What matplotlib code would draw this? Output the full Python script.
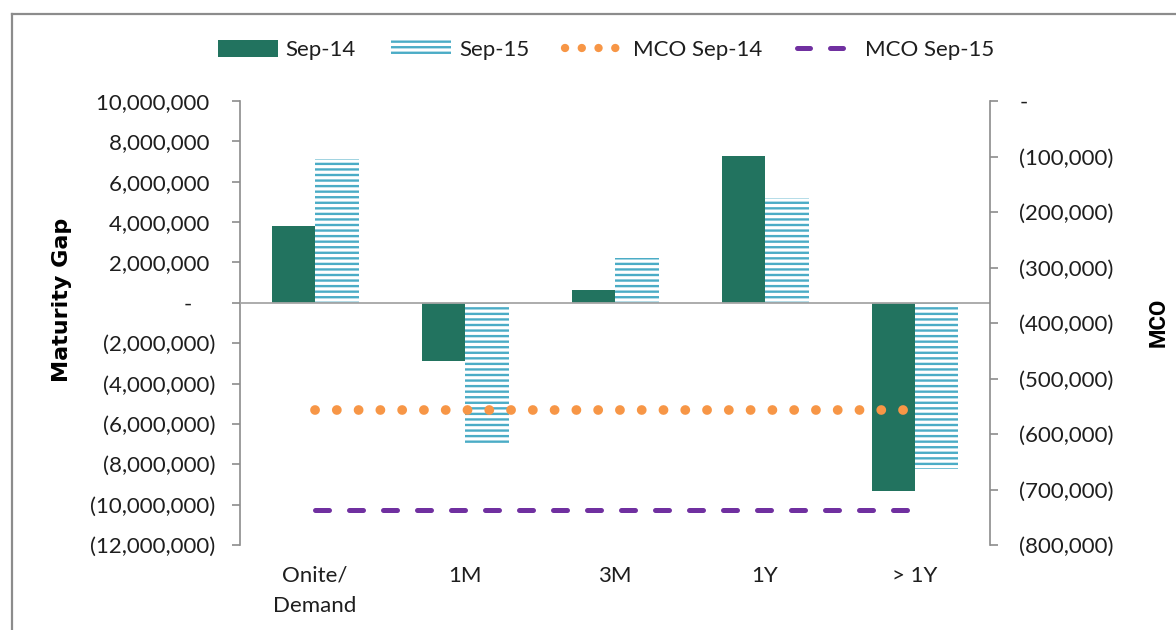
import matplotlib.pyplot as plt
from matplotlib.patches import Patch
from matplotlib.lines import Line2D
from matplotlib.ticker import FuncFormatter, MultipleLocator
import numpy as np

# Data
categories = ['Onite/\nDemand', '1M', '3M', '1Y', '> 1Y']
gap_sep14 = [3800000, -2880000, 650000, 7250000, -9330000]
gap_sep15 = [7150000, -6950000, 2230000, 5200000, -8240000]
mco_sep14 = [-557000, -557000, -557000, -557000, -557000]
mco_sep15 = [-737000, -737000, -737000, -737000, -737000]

green = '#22735F'
blue = '#4BACC6'
orange = '#F79646'
purple = '#7030A0'
grey = '#8C8C8C'
txt = '#1E1E1E'

plt.rcParams['font.family'] = ['Lato', 'DejaVu Sans']
plt.rcParams['hatch.linewidth'] = 1.7
fs = 16

fig = plt.figure(figsize=(11.76, 6.3), dpi=100)
ax = fig.add_axes([240 / 1176, 1 - 545 / 630, 750 / 1176, 444 / 630])
ax2 = ax.twinx()

x = np.arange(len(categories))
w = 0.29
ax.bar(x - w / 2, gap_sep14, w, color=green, linewidth=0, zorder=2)
ax.bar(x + w / 2, gap_sep15, w, color='white', edgecolor=blue, hatch='---',
       linewidth=0, zorder=2)
ax.axhline(0, color='#A6A6A6', lw=1.3, zorder=3)

dot_style = dict(color=orange, lw=7.0, linestyle=(0, (0.01, 2.23)),
                 dash_capstyle='round')
dash_style = dict(color=purple, lw=3.6, linestyle=(0, (2.8, 4.0)),
                  dash_capstyle='round')
ax2.plot(x, mco_sep14, **dot_style)
ax2.plot(x, mco_sep15, **dash_style)

ax.set_xlim(-0.5, len(categories) - 0.5)
ax.set_ylim(-12000000, 10000000)
ax.yaxis.set_major_locator(MultipleLocator(2000000))
ax2.set_ylim(-800000, 0)
ax2.yaxis.set_major_locator(MultipleLocator(100000))


def fmt_left(v, pos):
    if abs(v) < 1:
        return '-    '
    if v < 0:
        return f'({abs(v):,.0f})'
    return f'{v:,.0f} '


def fmt_right(v, pos):
    if abs(v) < 1:
        return '-'
    return f'({abs(v):,.0f})'


ax.yaxis.set_major_formatter(FuncFormatter(fmt_left))
ax2.yaxis.set_major_formatter(FuncFormatter(fmt_right))

ax.set_xticks(x)
ax.set_xticklabels(categories, fontsize=fs, color=txt, linespacing=1.65)
ax.tick_params(axis='x', length=0, pad=15)
ax.tick_params(axis='y', labelsize=fs, labelcolor=txt, color=grey,
               length=6, width=1.2, pad=12)
ax2.tick_params(axis='y', labelsize=fs, labelcolor=txt, color=grey,
                length=6, width=1.2, pad=15)

for s in ['top', 'bottom']:
    ax.spines[s].set_visible(False)
    ax2.spines[s].set_visible(False)
ax.spines['right'].set_visible(False)
ax2.spines['left'].set_visible(False)
ax.spines['left'].set_color(grey)
ax.spines['left'].set_linewidth(1.2)
ax2.spines['right'].set_color(grey)
ax2.spines['right'].set_linewidth(1.2)

ax.set_ylabel('Maturity Gap', fontsize=fs, fontweight='bold', color='black',
              family=['DejaVu Sans'])
ax.yaxis.set_label_coords(-168 / 750, (545 - 300) / 444)
ax2.set_ylabel('MCO', fontsize=fs, fontweight='bold', color='black',
               family=['Roboto', 'DejaVu Sans'])
ax2.yaxis.set_label_coords(1 + 158 / 750, (545 - 322) / 444)

handles = [
    Patch(facecolor=green, linewidth=0),
    Patch(facecolor='white', edgecolor=blue, hatch='---', linewidth=0),
    Line2D([], [], color=orange, lw=6.0, linestyle=(0, (0.01, 2.0)),
           dash_capstyle='round'),
    Line2D([], [], color=purple, lw=3.6, linestyle=(0, (2.6, 4.0)),
           dash_capstyle='round'),
]
labels = ['Sep-14', 'Sep-15', 'MCO Sep-14', 'MCO Sep-15']
fig.legend(handles, labels, loc='center', bbox_to_anchor=(606 / 1176, 1 - 50 / 630),
           ncol=4, frameon=False, fontsize=fs, handlelength=2.7,
           handleheight=0.8, handletextpad=0.35, columnspacing=1.6,
           labelcolor=txt)

# outer chart border
fig.add_artist(Line2D([11.5 / 1176, 11.5 / 1176], [0, 1 - 14 / 630],
                      transform=fig.transFigure, color=grey, lw=1.6))
fig.add_artist(Line2D([11.5 / 1176, 1], [1 - 14 / 630, 1 - 14 / 630],
                      transform=fig.transFigure, color=grey, lw=1.6))

plt.savefig('out.png', dpi=100)
plt.close()
